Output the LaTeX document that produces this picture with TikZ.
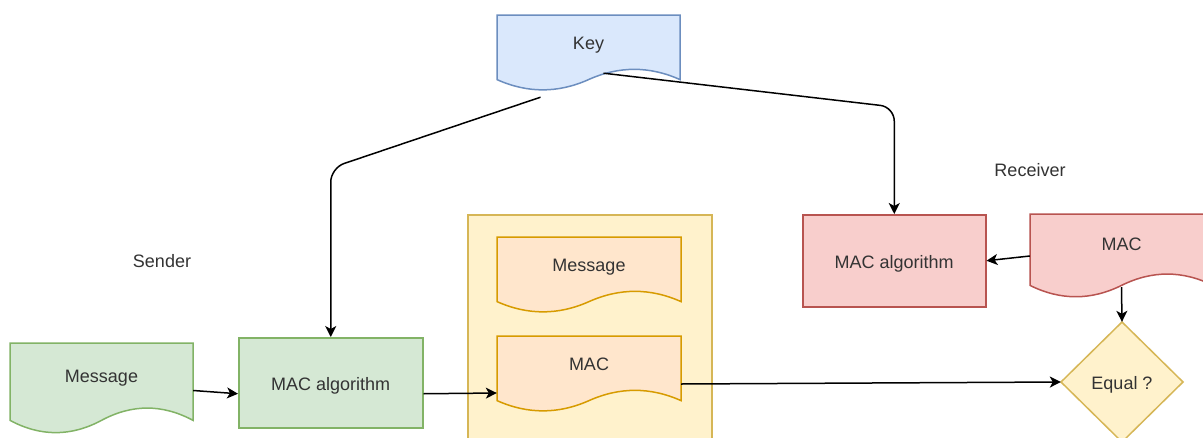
\documentclass[tikz,border=0pt]{standalone}
\usepackage{fontspec}
\setmainfont{Liberation Sans}
\usetikzlibrary{arrows.meta,calc}

\definecolor{blueFill}{HTML}{DAE8FC}
\definecolor{blueLine}{HTML}{6C8EBF}
\definecolor{greenFill}{HTML}{D5E8D4}
\definecolor{greenLine}{HTML}{82B366}
\definecolor{yellowFill}{HTML}{FFF2CC}
\definecolor{yellowLine}{HTML}{D6B656}
\definecolor{orangeFill}{HTML}{FFE6CC}
\definecolor{orangeLine}{HTML}{D79B00}
\definecolor{redFill}{HTML}{F8CECC}
\definecolor{redLine}{HTML}{B85450}
\definecolor{textGrey}{HTML}{333333}

\tikzset{
  lbl/.style={inner sep=0pt, text height=17pt, text depth=2pt, text=textGrey,
              font=\fontsize{18}{21}\selectfont},
  boxshape/.style={line width=1.5pt, inner sep=0pt, anchor=north west},
  conn/.style={line width=1.5pt, -{Stealth[length=11pt,width=11pt,inset=3pt]}},
}

% document shape with a wavy lower edge:
% #1 name, #2 left, #3 top, #4 width, #5 height, #6 fill, #7 stroke, #8 text
\newcommand\wavedoc[8]{%
  \path[fill=#6, draw=#7, line width=1.5pt]
    (#2,#3) -- ({#2+#4},#3) -- ({#2+#4},{#3+0.85*#5})
    .. controls ({#2+5*#4/6},{#3+0.67*#5}) and ({#2+2*#4/3},{#3+0.67*#5}) .. ({#2+#4/2},{#3+0.85*#5})
    .. controls ({#2+#4/3},{#3+1.03*#5}) and ({#2+#4/6},{#3+1.03*#5}) .. (#2,{#3+0.85*#5})
    -- cycle;
  \node[inner sep=0pt, minimum width=#4, minimum height=#5] (#1) at ({#2+#4/2},{#3+#5/2}) {};
  \node[lbl] (#1-text) at ({#2+#4/2},{#3+0.35*#5}) {#8};
}

\begin{document}
\begin{tikzpicture}[x=1pt, y=-1pt]
  \clip (0,0) rectangle (1203,437);
  \fill[white] (0,0) rectangle (1203,437);

  % key
  \wavedoc{key}{497}{15}{183}{76}{blueFill}{blueLine}{Key}

  % sender side
  \node[lbl] (sender) at (162,260) {Sender};
  \wavedoc{smsg}{10}{343}{183}{91}{greenFill}{greenLine}{Message}
  \node[boxshape, draw=greenLine, fill=greenFill, minimum width=184, minimum height=90] (galgo) at (238,337) {};
  \node[lbl] at (galgo.center) {MAC algorithm};

  % transmitted message and MAC
  \node[boxshape, draw=yellowLine, fill=yellowFill, minimum width=244, minimum height=260] (bundle) at (467,214) {};
  \wavedoc{imsg}{497}{237}{184}{76}{orangeFill}{orangeLine}{Message}
  \wavedoc{imac}{497}{336}{184}{76}{orangeFill}{orangeLine}{MAC}

  % receiver side
  \node[lbl] (receiver) at (1030,169) {Receiver};
  \node[boxshape, draw=redLine, fill=redFill, minimum width=183, minimum height=92] (ralgo) at (802,214) {};
  \node[lbl] at (ralgo.center) {MAC algorithm};
  \wavedoc{rmac}{1030}{214}{183}{84}{redFill}{redLine}{MAC}

  % comparison
  \path[fill=yellowFill, draw=yellowLine, line width=1.5pt]
    (1122,322) -- (1183,382) -- (1122,442) -- (1061,382) -- cycle;
  \node[inner sep=0pt, minimum width=122, minimum height=120] (equal) at (1122,382) {};
  \node[lbl] at (equal.center) {Equal ?};

  % connectors
  \coordinate (bendL) at (galgo.north |- 0,168);
  \coordinate (bendR) at (ralgo.north |- 0,107);
  \draw[conn, rounded corners=14pt] ($(key.south)+(-48,6)$) -- (bendL) -- (galgo.north);
  \draw[conn, rounded corners=14pt] ($(key.south)+(15,-18)$) -- (bendR) -- (ralgo.north);
  \draw[conn] ($(smsg.east)+(0,2)$) -- ($(galgo.west)+(0,11)$);
  \draw[conn] ($(galgo.east)+(0,11)$) -- ($(imac.west)+(0,19)$);
  \draw[conn] ($(imac.east)+(0,10)$) -- (equal.west);
  \draw[conn] (rmac.west) -- (ralgo.east);
  \draw[conn] ($(rmac.south)+(0,-11)$) -- (equal.north);
\end{tikzpicture}
\end{document}
